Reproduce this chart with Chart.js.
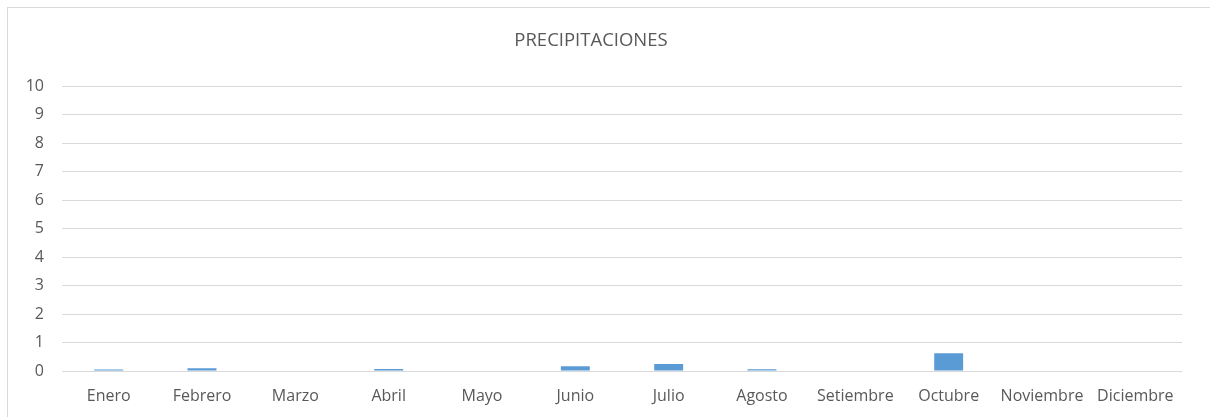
<!DOCTYPE html>
<html>
<head>
<meta charset="utf-8">
<script src="https://cdn.jsdelivr.net/npm/chart.js@4/dist/chart.umd.min.js"></script>
<style>
  html, body { margin: 0; padding: 0; background: #fff; }
  #wrap { position: relative; width: 1210px; height: 417px; overflow: hidden; }
  #marco { position: absolute; left: 7px; top: 7px; width: 1300px; height: 500px;
           border-top: 1px solid #d9d9d9; border-left: 1px solid #d9d9d9; }
  canvas { position: absolute; left: 0; top: 0; }
</style>
</head>
<body>
<div id="wrap">
  <div id="marco"></div>
  <canvas id="precipChart" width="1210" height="417"></canvas>
</div>
<script>
// Datos del gráfico
const meses = ['Enero', 'Febrero', 'Marzo', 'Abril', 'Mayo', 'Junio', 'Julio',
               'Agosto', 'Setiembre', 'Octubre', 'Noviembre', 'Diciembre'];
const precipitacion = [0.05, 0.1, 0, 0.07, 0, 0.17, 0.25, 0.06, 0.02, 0.62, 0.02, 0];
const ejeY = { min: 0, max: 10, paso: 1 };

const gris = '#595959';
const fuente = { family: "'Open Sans', 'Noto Sans', sans-serif", size: 16 };

const ctx = document.getElementById('precipChart');

new Chart(ctx, {
    type: 'bar',
    data: {
        labels: meses,
        datasets: [{
            label: 'Precipitaciones',
            data: precipitacion,
            backgroundColor: '#5b9bd5',
            barPercentage: 0.62,
            categoryPercentage: 0.5
        }]
    },
    options: {
        responsive: false,
        animation: false,
        layout: { padding: { left: 0, right: 28, top: 0, bottom: 0 } },
        plugins: {
            legend: { display: false },
            tooltip: { enabled: false },
            title: {
                display: true,
                text: 'PRECIPITACIONES',
                color: gris,
                font: { family: fuente.family, size: 18.5, weight: 'normal' },
                padding: { top: 30, bottom: 34 }
            }
        },
        scales: {
            x: {
                grid: { display: false, drawTicks: false },
                border: { display: false },
                ticks: { color: gris, font: fuente, padding: 16, maxRotation: 0, autoSkip: false },
                afterFit(scale) { scale.height = 46; }
            },
            y: {
                min: ejeY.min,
                max: ejeY.max,
                ticks: { stepSize: ejeY.paso, color: gris, font: fuente, padding: 18 },
                grid: { color: '#d9d9d9', lineWidth: 1, drawTicks: false },
                border: { display: false },
                afterFit(scale) { scale.width = 62; }
            }
        }
    }
});
</script>
</body>
</html>
